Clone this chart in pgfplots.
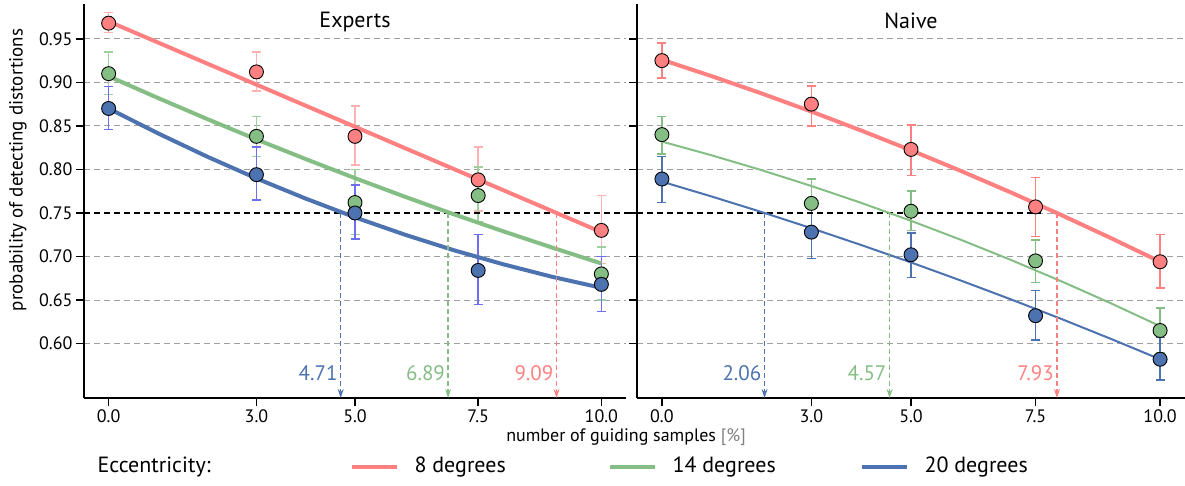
\documentclass[border=0pt]{standalone}
\usepackage{fontspec}
\setmainfont{PT Sans}
\usepackage{pgfplots}
\pgfplotsset{compat=1.18}
\usetikzlibrary{arrows.meta}

\definecolor{cred}{RGB}{255,128,128}
\definecolor{cgreen}{RGB}{133,190,133}
\definecolor{cblue}{RGB}{76,114,176}
\definecolor{ered}{RGB}{255,178,178}
\definecolor{egreen}{RGB}{160,208,160}
\definecolor{eblue}{RGB}{110,110,245}

\tikzset{
  arr/.style={#1, dash pattern=on 5pt off 3pt, line width=1.3pt, -{Stealth[length=9pt,width=6pt]}},
  ann/.style={#1, anchor=south east, inner sep=1pt, xshift=-2pt, font=\fontsize{21}{24}\selectfont},
}
\pgfplotsset{
  panel/.style={
    scale only axis, height=394pt,
    xmin=-0.5, xmax=10.5, ymin=0.5375, ymax=0.99,
    axis x line*=bottom, axis y line*=left,
    axis line style={line width=1.6pt, black},
    xtick={0,3,5,7.5,10}, xticklabels={0.0,3.0,5.0,7.5,10.0},
    ytick={0.60,0.65,0.70,0.75,0.80,0.85,0.90,0.95},
    tick align=outside, major tick length=8pt,
    tick style={line width=1.6pt, black},
    ymajorgrids,
    major grid style={dash pattern=on 6pt off 4pt, gray!75, line width=0.9pt},
    clip=false,
    tick label style={font=\fontsize{18}{21}\selectfont},
    /pgf/number format/assume math mode=true,
    title style={at={(0.5,0.972)}, anchor=north, font=\fontsize{22}{25}\selectfont},
  },
  ebar/.style={only marks, mark=none, forget plot,
    error bars/.cd, y dir=both, y explicit,
    error bar style={draw=#1, line width=1.5pt},
    error mark options={draw=#1, rotate=90, mark size=4.5pt, line width=1.5pt}},
  dot/.style={only marks, mark=*, mark size=7pt,
    mark options={fill=#1, draw=black, line width=0.9pt}},
}

\begin{document}
\begin{tikzpicture}
\useasboundingbox (0,0) rectangle (1185pt,485pt);

% ---------------- Experts ----------------
\begin{axis}[panel, at={(84pt,87pt)}, anchor=south west, width=542pt,
  yticklabels={0.60,0.65,0.70,0.75,0.80,0.85,0.90,0.95},
  title={Experts}]
\addplot[ebar=ered] coordinates {
 (0,0.968) += (0,0.012) -= (0,0.011)
 (3,0.912) += (0,0.023) -= (0,0.022)
 (5,0.838) += (0,0.035) -= (0,0.033)
 (7.5,0.788) += (0,0.038) -= (0,0.036)
 (10,0.730) += (0,0.040) -= (0,0.038)};
\addplot[ebar=egreen] coordinates {
 (0,0.910) += (0,0.025) -= (0,0.024)
 (3,0.838) += (0,0.023) -= (0,0.023)
 (5,0.762) += (0,0.038) -= (0,0.037)
 (7.5,0.770) += (0,0.033) -= (0,0.030)
 (10,0.680) += (0,0.031) -= (0,0.030)};
\addplot[ebar=eblue] coordinates {
 (0,0.870) += (0,0.025) -= (0,0.024)
 (3,0.794) += (0,0.032) -= (0,0.029)
 (5,0.750) += (0,0.032) -= (0,0.030)
 (7.5,0.684) += (0,0.041) -= (0,0.039)
 (10,0.668) += (0,0.032) -= (0,0.031)};

\draw[black, dash pattern=on 6pt off 4pt, line width=1.6pt] (axis cs:-0.5,0.75) -- (axis cs:10.72,0.75);

\addplot[cred, line width=4pt] coordinates {(0,0.970) (10,0.728)};
\addplot[cgreen, line width=4pt] coordinates {(0,0.907) (1,0.8821) (2,0.8579) (3,0.8345) (4,0.8119) (5,0.7900) (6,0.7689) (7,0.7486) (8,0.7291) (9,0.7103) (10,0.6920)};
\addplot[cblue, line width=4pt] coordinates {(0,0.870) (1,0.8415) (2,0.8147) (3,0.7897) (4,0.7665) (5,0.7450) (6,0.7253) (7,0.7073) (8,0.6912) (9,0.6767) (10,0.6640)};

\addplot[dot=cred] coordinates {(0,0.968) (3,0.912) (5,0.838) (7.5,0.788) (10,0.730)};
\addplot[dot=cgreen] coordinates {(0,0.910) (3,0.838) (5,0.762) (7.5,0.770) (10,0.680)};
\addplot[dot=cblue] coordinates {(0,0.870) (3,0.794) (5,0.750) (7.5,0.684) (10,0.668)};

\draw[arr=cblue] (axis cs:4.71,0.75) -- (axis cs:4.71,0.5375);
\draw[arr=cgreen] (axis cs:6.89,0.75) -- (axis cs:6.89,0.5375);
\draw[arr=cred] (axis cs:9.09,0.75) -- (axis cs:9.09,0.5375);
\node[ann=cblue] at (axis cs:4.71,0.556) {4.71};
\node[ann=cgreen] at (axis cs:6.89,0.556) {6.89};
\node[ann=cred] at (axis cs:9.09,0.556) {9.09};
\end{axis}

% ---------------- Naive ----------------
\begin{axis}[panel, at={(637pt,87pt)}, anchor=south west, width=548pt,
  yticklabels={}, title={Naive}]
\addplot[ebar=cred] coordinates {
 (0,0.925) += (0,0.020) -= (0,0.020)
 (3,0.875) += (0,0.021) -= (0,0.025)
 (5,0.823) += (0,0.028) -= (0,0.030)
 (7.5,0.757) += (0,0.034) -= (0,0.034)
 (10,0.694) += (0,0.031) -= (0,0.030)};
\addplot[ebar=cgreen] coordinates {
 (0,0.840) += (0,0.021) -= (0,0.022)
 (3,0.761) += (0,0.028) -= (0,0.028)
 (5,0.752) += (0,0.023) -= (0,0.022)
 (7.5,0.695) += (0,0.024) -= (0,0.025)
 (10,0.615) += (0,0.026) -= (0,0.025)};
\addplot[ebar=cblue] coordinates {
 (0,0.789) += (0,0.026) -= (0,0.027)
 (3,0.728) += (0,0.029) -= (0,0.030)
 (5,0.702) += (0,0.025) -= (0,0.026)
 (7.5,0.632) += (0,0.029) -= (0,0.028)
 (10,0.582) += (0,0.025) -= (0,0.024)};

\draw[black, dash pattern=on 6pt off 4pt, line width=1.6pt] (axis cs:-0.5,0.75) -- (axis cs:7.6,0.75);

\addplot[cred, line width=4pt] coordinates {(0,0.926) (1,0.9071) (2,0.8873) (3,0.8665) (4,0.8447) (5,0.8220) (6,0.7983) (7,0.7737) (8,0.7481) (9,0.7215) (10,0.6940)};
\addplot[cgreen, line width=2pt] coordinates {(0,0.832) (1,0.8162) (2,0.7992) (3,0.7810) (4,0.7616) (5,0.7410) (6,0.7192) (7,0.6962) (8,0.6720) (9,0.6466) (10,0.6200)};
\addplot[cblue, line width=2pt] coordinates {(0,0.786) (1,0.7689) (2,0.7511) (3,0.7325) (4,0.7132) (5,0.6932) (6,0.6724) (7,0.6509) (8,0.6287) (9,0.6057) (10,0.5820)};

\addplot[dot=cred] coordinates {(0,0.925) (3,0.875) (5,0.823) (7.5,0.757) (10,0.694)};
\addplot[dot=cgreen] coordinates {(0,0.840) (3,0.761) (5,0.752) (7.5,0.695) (10,0.615)};
\addplot[dot=cblue] coordinates {(0,0.789) (3,0.728) (5,0.702) (7.5,0.632) (10,0.582)};

\draw[arr=cblue] (axis cs:2.06,0.75) -- (axis cs:2.06,0.5375);
\draw[arr=cgreen] (axis cs:4.57,0.75) -- (axis cs:4.57,0.5375);
\draw[arr=cred] (axis cs:7.93,0.75) -- (axis cs:7.93,0.5375);
\node[ann=cblue] at (axis cs:2.06,0.556) {2.06};
\node[ann=cgreen] at (axis cs:4.57,0.556) {4.57};
\node[ann=cred] at (axis cs:7.93,0.556) {7.93};
\end{axis}

% labels
\node[rotate=90, font=\fontsize{19}{22}\selectfont] at (18pt,315pt) {probability of detecting distortions};
\node[font=\fontsize{18}{21}\selectfont] at (626pt,48pt) {number of guiding samples {\color{gray}[\%]}};

% legend
\node[anchor=west, font=\fontsize{22}{26}\selectfont] at (94pt,18pt) {Eccentricity:};
\draw[cred, line width=4.5pt] (352pt,18pt) -- (397pt,18pt);
\node[anchor=west, font=\fontsize{22}{26}\selectfont] at (411pt,18pt) {8 degrees};
\draw[cgreen, line width=4.5pt] (610pt,18pt) -- (655pt,18pt);
\node[anchor=west, font=\fontsize{22}{26}\selectfont] at (669pt,18pt) {14 degrees};
\draw[cblue, line width=4.5pt] (862pt,18pt) -- (907pt,18pt);
\node[anchor=west, font=\fontsize{22}{26}\selectfont] at (921pt,18pt) {20 degrees};
\end{tikzpicture}
\end{document}
